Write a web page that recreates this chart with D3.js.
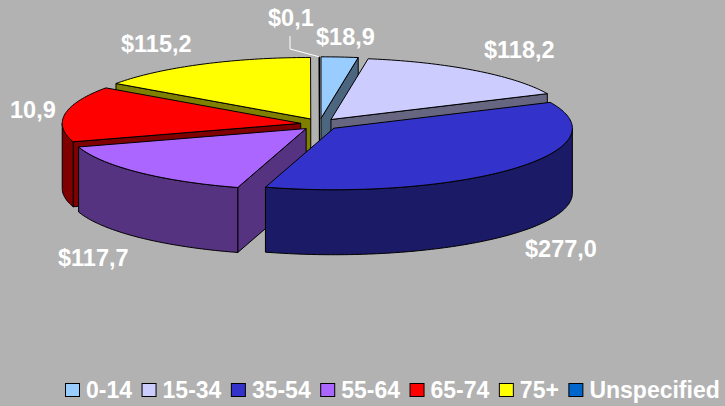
<!DOCTYPE html>
<html>
<head>
<meta charset="utf-8">
<script src="https://cdn.jsdelivr.net/npm/d3@7"></script>
<style>
html,body{margin:0;padding:0;background:#b2b2b2;overflow:hidden}
text{font-family:"Liberation Sans",Arial,sans-serif;font-weight:bold;fill:#fff}
</style>
</head>
<body>
<svg id="chart" width="725" height="406"></svg>
<script>
const categories = ["0-14","15-34","35-54","55-64","65-74","75+","Unspecified"];
const values = [18.9,118.2,277.0,117.7,110.9,115.2,0.1];
const valueLabels = ["$18,9","$118,2","$277,0","$117,7","10,9","$115,2","$0,1"];
const topColors = ["#99CCFF","#CCCCFF","#3333CC","#AA66FF","#FF0000","#FFFF00","#0066CC"];
const sideColors = ["#4D6680","#666680","#1A1A66","#553380","#800000","#808000","#003366"];

// layout
const W=725,H=406,cx=319.5,cy=124.3,rx=238.5,ry=61.5,depth=65,exX=19,exY=6;
const drawOrder=[5,6,0,1,4,3,2];
const labelPos=[[316,45],[484,58],[525,257],[58,266],[10,118],[121,52],[268,26]];

const svg=d3.select("#chart");
svg.append("rect").attr("width",W).attr("height",H).attr("fill","#b2b2b2");

const arcs=d3.pie().sort(null).startAngle(0).endAngle(2*Math.PI)(values);
const line=d3.line();
const stroke=g=>g.attr("stroke","#000").attr("stroke-width",1).attr("stroke-linejoin","round");

function rim(a0,a1,ox,oy,dz){
  const n=Math.max(2,Math.ceil(Math.abs(a1-a0)/0.02)),pts=[];
  for(let i=0;i<=n;i++){
    const a=a0+(a1-a0)*i/n;
    pts.push([ox+rx*Math.sin(a),oy-ry*Math.cos(a)+dz]);
  }
  return pts;
}
const root=svg.append("g");
drawOrder.forEach(i=>{
  const d=arcs[i],a0=d.startAngle,a1=d.endAngle,mid=(a0+a1)/2;
  const ox=cx+exX*Math.sin(mid),oy=cy-exY*Math.cos(mid);
  const g=root.append("g").call(stroke);
  const face=(pts,fill)=>g.append("path").attr("d",line(pts)+"Z").attr("fill",fill);
  const edge=a=>[ox+rx*Math.sin(a),oy-ry*Math.cos(a)];
  if(Math.sin(a0)<0){
    const e=edge(a0);
    face([[ox,oy],e,[e[0],e[1]+depth],[ox,oy+depth]],sideColors[i]);
  }
  if(Math.sin(a1)>0){
    const e=edge(a1);
    face([[ox,oy],e,[e[0],e[1]+depth],[ox,oy+depth]],sideColors[i]);
  }
  const w0=Math.max(a0,Math.PI/2),w1=Math.min(a1,3*Math.PI/2);
  if(w1>w0){
    face(rim(w0,w1,ox,oy,0).concat(rim(w1,w0,ox,oy,depth)),sideColors[i]);
  }
  face([[ox,oy]].concat(rim(a0,a1,ox,oy,0)),topColors[i]);
});

// leader line of the smallest slice
const uIdx=categories.indexOf("Unspecified");
const uMid=(arcs[uIdx].startAngle+arcs[uIdx].endAngle)/2;
const uTip=[cx+exX*Math.sin(uMid)+rx*Math.sin(uMid),cy-exY*Math.cos(uMid)-ry*Math.cos(uMid)];
svg.append("path")
  .attr("d",line([[290,36],[290,49],uTip]))
  .attr("fill","none").attr("stroke","#fff").attr("stroke-width",1);

// data labels
svg.append("g").selectAll("text").data(valueLabels).join("text")
  .attr("x",(d,i)=>labelPos[i][0]).attr("y",(d,i)=>labelPos[i][1])
  .attr("font-size",23.5).text(d=>d);

// legend
const legend=svg.append("g");
let lx=65;
categories.forEach((c,i)=>{
  legend.append("rect").attr("x",lx+.5).attr("y",383.5).attr("width",14).attr("height",13)
    .attr("fill",topColors[i]).attr("stroke","#000").attr("stroke-width",1);
  const t=legend.append("text").attr("x",lx+21).attr("y",398).attr("font-size",23).text(c);
  lx+=21+t.node().getComputedTextLength()+9.5;
});
</script>
</body>
</html>
